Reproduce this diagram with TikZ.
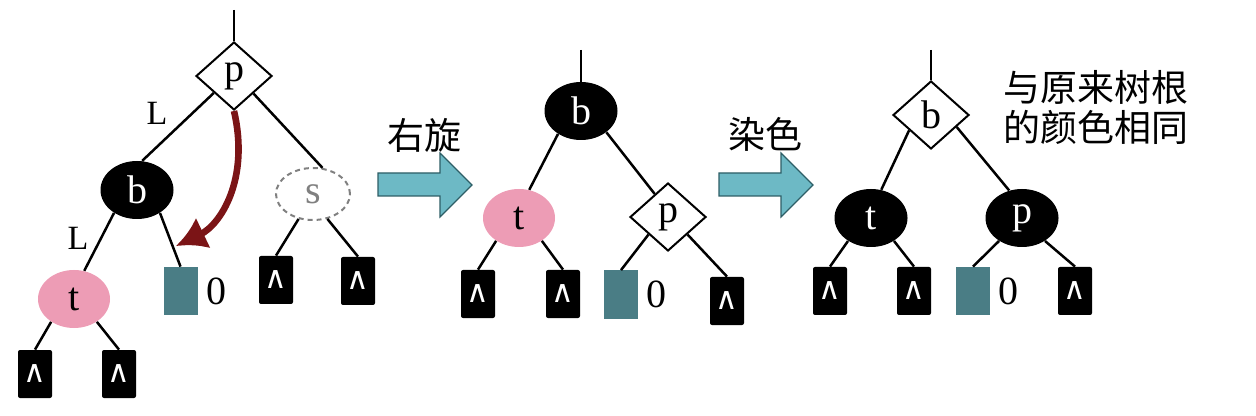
\documentclass[tikz,border=0pt]{standalone}
\usepackage{fontspec}
\setmainfont{Liberation Serif}
\newfontfamily\cjk{Noto Sans CJK SC}
\newfontfamily\symf{DejaVu Sans}
\usepackage{tikz}
\usetikzlibrary{shapes.geometric}
\usetikzlibrary{arrows.meta}
\usetikzlibrary{positioning}
\definecolor{rose}{RGB}{237,156,181}
\definecolor{sarcelle}{RGB}{74,125,133}
\definecolor{ciel}{RGB}{109,185,197}
\definecolor{ardoise}{RGB}{46,94,102}
\definecolor{bordeaux}{RGB}{123,20,22}
\tikzset{
  lettre/.style={font=\fontsize{20}{20}\selectfont},
  noir/.style={lettre,ellipse,fill=black,text=white,minimum width=36.5pt,minimum height=29pt,inner sep=0pt},
  rouge/.style={lettre,ellipse,fill=rose,minimum width=36pt,minimum height=29pt,inner sep=0pt},
  fantome/.style={lettre,ellipse,draw=gray,text=gray,dash pattern=on 2.5pt off 2pt,line width=1pt,minimum width=37pt,minimum height=26pt,inner sep=0pt},
  losange/.style={lettre,diamond,draw,line width=1pt,fill=white,minimum width=38pt,minimum height=34pt,inner sep=0pt},
  nil/.style={fill=black,text=white,rounded corners=1pt,minimum width=17pt,minimum height=24pt,inner sep=0pt,font=\symf\fontsize{15.5}{15.5}\selectfont},
  vide/.style={fill=sarcelle,minimum width=17pt,minimum height=24pt,inner sep=0pt},
  zero/.style={lettre,inner sep=1pt},
  cote/.style={font=\fontsize{17}{17}\selectfont},
  chinois/.style={font=\cjk\fontsize{18.5}{20}\selectfont},
  lien/.style={line width=1.25pt},
  fleche/.style={fill=ciel,draw=ardoise,line width=0.6pt},
}

\begin{document}
\begin{tikzpicture}[x=0.5pt,y=-0.5pt]
\useasboundingbox (0,0) rectangle (1256,416);
% avant la rotation
\coordinate (h1) at (234,10);
\node[losange] (p1) at (234,76) {p};
\node[noir] (b1) at (137,190) {b};
\node[rouge] (t1) at (74,299) {t};
\node[fantome] (s1) at (313,194) {s};
\node[vide] (z1) at (180.5,291) {};
\node[zero,right=3pt of z1] (o1) {0};
\node[nil] (n1) at (35,374) {∧};
\node[nil] (n2) at (119,374) {∧};
\node[nil] (n3) at (276,280) {∧};
\node[nil] (n4) at (358,281) {∧};
\node[cote] (l1) at (157,113) {L};
\node[cote] (l2) at (78,238) {L};
\draw[lien] (h1) -- (p1.north);
\draw[lien] (p1.220) -- (b1.80);
\draw[lien] (p1.318) -- (s1.70);
\draw[lien] (b1.225) -- (t1.70);
\draw[lien] (b1.315) -- (z1.north);
\draw[lien] (t1.225) -- (n1.north);
\draw[lien] (t1.315) -- (n2.north);
\draw[lien] (s1.240) -- (n3.north);
\draw[lien] (s1.300) -- (n4.north);
\coordinate (rc) at (176,246);
\draw[bordeaux,line width=3.3pt,-{Latex[length=15pt,width=17pt]}] (p1.south) .. controls (250,180) and (220,225) .. (rc);
% fleches
\foreach \d in {0,341}{
  \draw[fleche] (378+\d,173) -- (440+\d,173) -- (440+\d,153) -- (472+\d,185) -- (440+\d,217) -- (440+\d,196) -- (378+\d,196) -- cycle;
}
\node[chinois] (rot) at (424,135) {右旋};
\node[chinois] (tein) at (765,134) {染色};
% apres la rotation
\coordinate (h2) at (581,50);
\node[noir] (b2) at (581,111) {b};
\node[rouge] (t2) at (519,218) {t};
\node[losange] (p2) at (668,217) {p};
\node[nil] (n5) at (478,294) {∧};
\node[nil] (n6) at (563,294) {∧};
\node[vide] (z2) at (621,294.5) {};
\node[zero,right=3pt of z2] (o2) {0};
\node[nil] (n7) at (727,301) {∧};
\draw[lien] (h2) -- (b2.north);
\draw[lien] (b2.225) -- (t2.70);
\draw[lien] (b2.320) -- (p2.120);
\draw[lien] (t2.225) -- (n5.north);
\draw[lien] (t2.315) -- (n6.north);
\draw[lien] (p2.south west) -- (z2.north);
\draw[lien] (p2.south east) -- (n7.north);
% apres la coloration
\coordinate (h3) at (931,50);
\node[losange] (b3) at (931,115) {b};
\node[noir] (t3) at (871,218) {t};
\node[noir] (p3) at (1022,218) {p};
\node[nil] (n8) at (830,291) {∧};
\node[nil] (n9) at (914,291) {∧};
\node[vide] (z3) at (973,291) {};
\node[zero,right=3pt of z3] (o3) {0};
\node[nil] (n10) at (1075,291) {∧};
\draw[lien] (h3) -- (b3.north);
\draw[lien] (b3.215) -- (t3.70);
\draw[lien] (b3.335) -- (p3.115);
\draw[lien] (t3.225) -- (n8.north);
\draw[lien] (t3.315) -- (n9.north);
\draw[lien] (p3.225) -- (z3.north);
\draw[lien] (p3.315) -- (n10.north);
\node[chinois,align=left] (note) at (1096,107) {与原来树根\\的颜色相同};
\end{tikzpicture}
\end{document}
